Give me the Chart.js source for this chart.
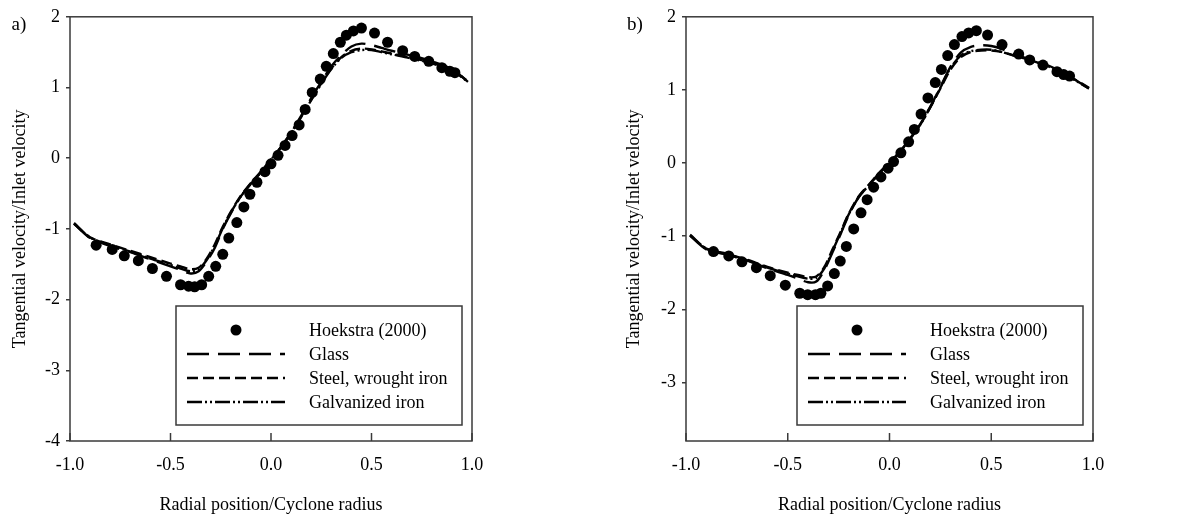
<!DOCTYPE html>
<html>
<head>
<meta charset="utf-8">
<script src="https://cdn.jsdelivr.net/npm/chart.js@4.4.0/dist/chart.umd.min.js"></script>
<style>
  html, body { margin: 0; padding: 0; background: #fff; }
  #wrap { position: relative; width: 1185px; height: 518px; }
  .panel { position: absolute; top: 0; height: 518px; }
  #pa { left: 0; width: 590px; }
  #pb { left: 600px; width: 585px; }
</style>
</head>
<body>
<div id="wrap">
  <div class="panel" id="pa"><canvas id="chartA"></canvas></div>
  <div class="panel" id="pb"><canvas id="chartB"></canvas></div>
</div>
<script>
const seriesNames = ['Hoekstra (2000)', 'Glass', 'Steel, wrought iron', 'Galvanized iron'];
const xTicks = [-1, -0.5, 0, 0.5, 1];
const yTicksA = [-4, -3, -2, -1, 0, 1, 2];
const yTicksB = [-3, -2, -1, 0, 1, 2];

// radial positions of the simulated profiles
const lineX = [-0.98, -0.9, -0.8, -0.7, -0.6, -0.5, -0.45, -0.4, -0.36, -0.32, -0.28, -0.24, -0.2, -0.15, -0.1, -0.05, 0,
  0.05, 0.1, 0.15, 0.2, 0.25, 0.3, 0.35, 0.4, 0.45, 0.5, 0.55, 0.6, 0.7, 0.8, 0.9, 0.98];

// panel a
const hoekAx = [-0.87, -0.79, -0.73, -0.66, -0.59, -0.52, -0.45, -0.41, -0.38, -0.345, -0.31, -0.275, -0.24, -0.21, -0.17,
  -0.135, -0.105, -0.07, -0.03, 0.0, 0.035, 0.07, 0.105, 0.14, 0.17, 0.205, 0.245, 0.275, 0.31, 0.345, 0.375, 0.41, 0.45,
  0.515, 0.58, 0.655, 0.715, 0.785, 0.85, 0.89, 0.915];
const hoekAy = [-1.23, -1.29, -1.38, -1.45, -1.56, -1.67, -1.79, -1.81, -1.82, -1.79, -1.67, -1.53, -1.36, -1.13, -0.91,
  -0.69, -0.51, -0.34, -0.19, -0.08, 0.04, 0.18, 0.32, 0.47, 0.69, 0.93, 1.12, 1.30, 1.48, 1.64, 1.74, 1.80, 1.84,
  1.77, 1.64, 1.52, 1.44, 1.37, 1.28, 1.23, 1.21];
const glassA = [-0.92, -1.13, -1.24, -1.33, -1.43, -1.53, -1.58, -1.63, -1.60, -1.46, -1.27, -1.00, -0.78, -0.54, -0.36, -0.20, -0.03,
  0.16, 0.36, 0.60, 0.85, 1.08, 1.30, 1.46, 1.58, 1.62, 1.60, 1.56, 1.52, 1.45, 1.37, 1.26, 1.08];
const steelA = [-0.93, -1.12, -1.22, -1.31, -1.40, -1.49, -1.53, -1.57, -1.55, -1.42, -1.22, -0.97, -0.76, -0.53, -0.35, -0.19, -0.02,
  0.16, 0.36, 0.59, 0.83, 1.06, 1.27, 1.43, 1.52, 1.55, 1.54, 1.51, 1.48, 1.42, 1.35, 1.25, 1.09];
const galvA = [-0.92, -1.12, -1.23, -1.32, -1.42, -1.51, -1.56, -1.60, -1.57, -1.44, -1.24, -0.99, -0.77, -0.54, -0.36, -0.20, -0.02,
  0.15, 0.35, 0.58, 0.82, 1.05, 1.26, 1.42, 1.50, 1.53, 1.53, 1.50, 1.47, 1.41, 1.34, 1.24, 1.08];

// panel b
const hoekBx = [-0.865, -0.79, -0.725, -0.654, -0.586, -0.512, -0.441, -0.402, -0.364, -0.337, -0.304, -0.271, -0.242, -0.212,
  -0.176, -0.14, -0.11, -0.078, -0.042, -0.007, 0.02, 0.056, 0.094, 0.122, 0.155, 0.189, 0.225, 0.255, 0.286, 0.319, 0.356,
  0.389, 0.427, 0.482, 0.553, 0.635, 0.689, 0.754, 0.823, 0.856, 0.885];
const hoekBy = [-1.21, -1.27, -1.35, -1.43, -1.54, -1.67, -1.78, -1.80, -1.80, -1.78, -1.68, -1.51, -1.34, -1.14,
  -0.90, -0.68, -0.50, -0.33, -0.19, -0.07, 0.02, 0.14, 0.29, 0.46, 0.67, 0.89, 1.10, 1.28, 1.47, 1.62, 1.73,
  1.78, 1.81, 1.75, 1.62, 1.49, 1.41, 1.34, 1.25, 1.21, 1.19];
const glassB = [-0.99, -1.18, -1.25, -1.33, -1.44, -1.53, -1.58, -1.63, -1.62, -1.46, -1.22, -0.97, -0.71, -0.46, -0.30, -0.14, 0.00,
  0.15, 0.33, 0.53, 0.77, 1.04, 1.32, 1.51, 1.59, 1.61, 1.60, 1.56, 1.50, 1.41, 1.31, 1.16, 1.02];
const steelB = [-0.99, -1.17, -1.24, -1.32, -1.42, -1.50, -1.53, -1.56, -1.55, -1.42, -1.18, -0.94, -0.69, -0.45, -0.29, -0.13, 0.01,
  0.15, 0.33, 0.52, 0.76, 1.02, 1.28, 1.45, 1.52, 1.54, 1.54, 1.52, 1.48, 1.40, 1.30, 1.16, 1.03];
const galvB = [-0.98, -1.17, -1.25, -1.33, -1.43, -1.51, -1.55, -1.58, -1.57, -1.44, -1.20, -0.95, -0.70, -0.46, -0.30, -0.14, 0.00,
  0.15, 0.33, 0.52, 0.76, 1.03, 1.30, 1.47, 1.53, 1.55, 1.55, 1.52, 1.48, 1.40, 1.30, 1.15, 1.02];

const serif = '"Liberation Serif", "Times New Roman", serif';
Chart.defaults.font.family = serif;
Chart.defaults.font.size = 18;
Chart.defaults.color = '#000';

const pts = (xs, ys) => xs.map((x, i) => ({ x, y: ys[i] }));

// box frame, inward x ticks, panel tag and the boxed legend
const frame = {
  id: 'frame',
  afterDraw(chart, args, opts) {
    const { ctx, chartArea: a, scales: { x } } = chart;
    ctx.save();
    ctx.strokeStyle = '#3a3a3a';
    ctx.lineWidth = 1.5;
    ctx.strokeRect(a.left, a.top, a.right - a.left, a.bottom - a.top);
    x.ticks.forEach((t) => {
      const px = x.getPixelForValue(t.value);
      ctx.beginPath(); ctx.moveTo(px, a.bottom); ctx.lineTo(px, a.bottom - 8); ctx.stroke();
    });
    ctx.fillStyle = '#000';
    ctx.font = '19px ' + serif;
    ctx.textAlign = 'center'; ctx.textBaseline = 'middle';
    ctx.fillText(opts.tag, a.left - 51, a.top + 8);

    const w = 286, h = 119;
    const bx = a.right - 10 - w, by = a.bottom - 16 - h;
    ctx.fillStyle = '#fff';
    ctx.fillRect(bx, by, w, h);
    ctx.strokeRect(bx, by, w, h);
    ctx.font = '18px ' + serif;
    ctx.textAlign = 'left';
    chart.data.datasets.forEach((ds, i) => {
      const ry = by + 24 * (i + 1);
      ctx.fillStyle = '#000';
      if (ds.showLine) {
        ctx.save();
        ctx.strokeStyle = ds.borderColor; ctx.lineWidth = ds.borderWidth;
        ctx.setLineDash(ds.borderDash);
        ctx.beginPath(); ctx.moveTo(bx + 11, ry); ctx.lineTo(bx + 109, ry); ctx.stroke();
        ctx.restore();
      } else {
        ctx.beginPath(); ctx.arc(bx + 60, ry, ds.pointRadius, 0, Math.PI * 2); ctx.fill();
      }
      ctx.fillText(ds.label, bx + 133, ry + 1);
    });
    ctx.restore();
  },
};

function lineSet(label, ys, dash) {
  return {
    label, data: pts(lineX, ys), showLine: true, pointRadius: 0,
    borderColor: '#000', borderWidth: 2.4, borderDash: dash, tension: 0.3, fill: false,
  };
}

function makeChart(id, cfg) {
  return new Chart(document.getElementById(id), {
    type: 'scatter',
    data: {
      datasets: [
        { label: seriesNames[0], data: pts(cfg.hx, cfg.hy), pointRadius: 5.5, pointBackgroundColor: '#000', pointBorderWidth: 0, showLine: false },
        lineSet(seriesNames[1], cfg.glass, [22, 9]),
        lineSet(seriesNames[2], cfg.steel, [11, 5]),
        lineSet(seriesNames[3], cfg.galv, [15, 3, 2, 3, 2, 3]),
      ],
    },
    options: {
      responsive: true, maintainAspectRatio: false, animation: false,
      layout: { padding: { top: 13, right: cfg.padRight, left: 0, bottom: 0 } },
      plugins: { legend: { display: false }, tooltip: { enabled: false }, frame: { tag: cfg.tag } },
      scales: {
        x: {
          type: 'linear', min: -1, max: 1,
          afterBuildTicks: (s) => { s.ticks = xTicks.map((v) => ({ value: v })); },
          afterFit: (s) => { s.height = 77; },
          grid: { display: false }, border: { display: false },
          ticks: { padding: 5, color: '#000', maxRotation: 0, callback: (v) => Number(v).toFixed(1) },
          title: { display: true, text: 'Radial position/Cyclone radius', color: '#000', padding: { top: 0, bottom: 2 } },
        },
        y: {
          type: 'linear', min: cfg.yMin, max: 2,
          afterBuildTicks: (s) => { s.ticks = cfg.yTicks.map((v) => ({ value: v })); },
          afterFit: (s) => { s.width = cfg.yWidth; },
          grid: { drawOnChartArea: false, tickLength: 4, color: '#3a3a3a', lineWidth: 1.5 }, border: { display: false },
          ticks: { padding: 6, color: '#000' },
          title: { display: true, text: 'Tangential velocity/Inlet velocity', color: '#000', padding: { top: cfg.titlePad, bottom: 0 } },
        },
      },
    },
    plugins: [frame],
  });
}

makeChart('chartA', {
  tag: 'a)', hx: hoekAx, hy: hoekAy, glass: glassA, steel: steelA, galv: galvA,
  yMin: -4, yTicks: yTicksA, padRight: 118, yWidth: 70, titlePad: 9,
});
makeChart('chartB', {
  tag: 'b)', hx: hoekBx, hy: hoekBy, glass: glassB, steel: steelB, galv: galvB,
  yMin: -3.8, yTicks: yTicksB, padRight: 92, yWidth: 86, titlePad: 23,
});
</script>
</body>
</html>
